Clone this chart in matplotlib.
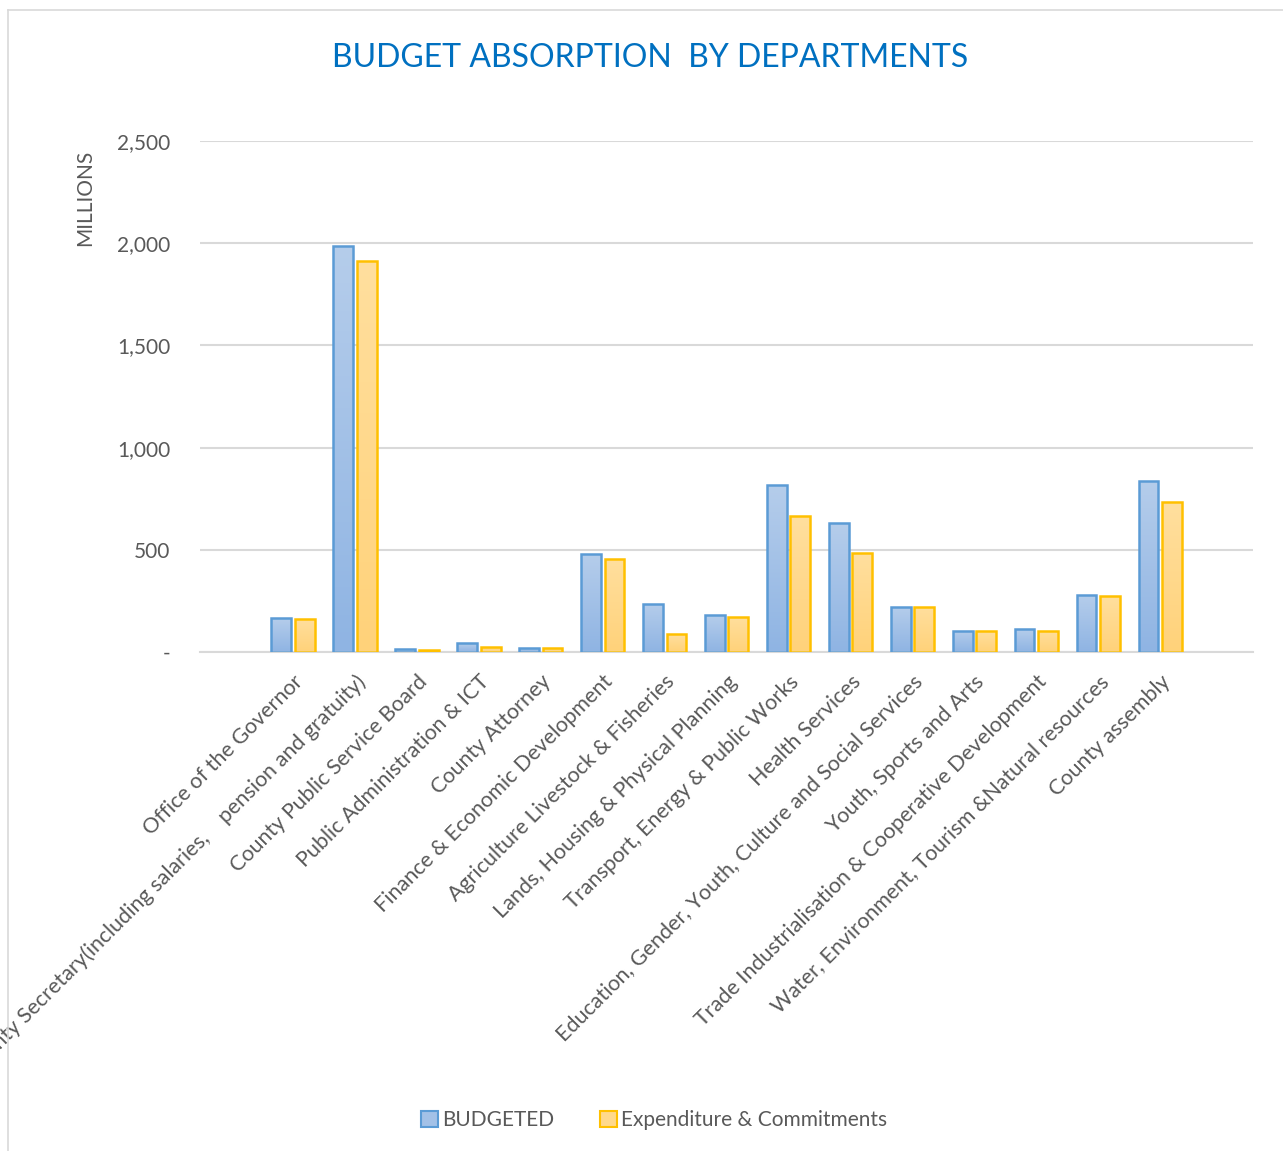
import numpy as np
import matplotlib
matplotlib.use("Agg")
import matplotlib.pyplot as plt
from matplotlib.colors import LinearSegmentedColormap
from matplotlib.ticker import FuncFormatter, FixedLocator
from matplotlib.patches import Patch
from matplotlib.lines import Line2D

plt.rcParams['font.family'] = ['Lato', 'DejaVu Sans']

# data (millions)
departments = [
    "Office of the Governor",
    "County Secretary(including salaries,    pension and gratuity)",
    "County Public Service Board",
    "Public Administration & ICT",
    "County Attorney",
    "Finance & Economic Development",
    "Agriculture Livestock & Fisheries",
    "Lands, Housing & Physical Planning",
    "Transport, Energy & Public Works",
    "Health Services",
    "Education, Gender, Youth, Culture and Social Services",
    "Youth, Sports and Arts",
    "Trade Industrialisation & Cooperative Development",
    "Water, Environment, Tourism &Natural resources",
    "County assembly",
]
budgeted = [165, 1986, 13, 44, 20, 478, 235, 181, 815, 631, 222, 104, 111, 277, 838]
expenditure = [164, 1914, 12, 25, 18, 457, 88, 173, 667, 486, 221, 102, 104, 275, 735]

grey_txt = '#595959'
grid_col = '#D9D9D9'

fig = plt.figure(figsize=(12.83, 11.51), dpi=100)
ax = fig.add_axes([0.156, 0.4335, 0.8207, 0.444])

x = np.arange(len(departments))
w = 0.32
off = 0.19

b1 = ax.bar(x - off, budgeted, w, facecolor='none', edgecolor='#5B9BD5', linewidth=1.8, zorder=3)
b2 = ax.bar(x + off, expenditure, w, facecolor='none', edgecolor='#FFC000', linewidth=1.8, zorder=3)

# gradient fills inside the bars
cm_blue = LinearSegmentedColormap.from_list('b', ['#8FB4E3', '#B5CDEB'])
cm_orng = LinearSegmentedColormap.from_list('o', ['#FFD27A', '#FFDF9E'])
grad = np.linspace(0, 1, 100).reshape(-1, 1)
for bars, cm in ((b1, cm_blue), (b2, cm_orng)):
    for p in bars:
        x0, y0 = p.get_x(), p.get_y()
        im = ax.imshow(grad, cmap=cm, origin='lower', aspect='auto', zorder=2,
                       extent=[x0, x0 + p.get_width(), y0, y0 + p.get_height()])
        im.set_clip_path(p)

ax.set_xlim(-1.5, len(departments) + 0.5)
ax.set_ylim(0, 2500)
ax.yaxis.set_major_locator(FixedLocator([0, 500, 1000, 1500, 2000, 2500]))
ax.yaxis.set_major_formatter(FuncFormatter(lambda v, p: '-' if v == 0 else f'{v:,.0f}'))
ax.grid(axis='y', color=grid_col, linewidth=1.5, zorder=0)
ax.set_axisbelow(True)
for s in ['top', 'right', 'left']:
    ax.spines[s].set_visible(False)
ax.spines['bottom'].set_color(grid_col)
ax.spines['bottom'].set_linewidth(1.5)

ax.set_xticks(x)
ax.set_xticklabels(departments, rotation=45, ha='right', va='top', rotation_mode='anchor',
                   fontsize=15.5, color=grey_txt)
ax.tick_params(axis='x', length=0, pad=14)
ax.tick_params(axis='y', length=0, pad=21.5, labelsize=15, labelcolor=grey_txt)

ax.set_ylabel('MILLIONS', fontsize=15, color=grey_txt)
ax.yaxis.set_label_coords(-0.1, 0.888)

fig.text(0.507, 0.950, 'BUDGET ABSORPTION  BY DEPARTMENTS', ha='center', va='center',
         fontsize=23, color='#0070C0')

handles = [Patch(facecolor='#A3C1E7', edgecolor='#5B9BD5', linewidth=1.5, label='BUDGETED'),
           Patch(facecolor='#FFD98C', edgecolor='#FFC000', linewidth=1.5, label='Expenditure & Commitments')]
fig.legend(handles=handles, loc='center', bbox_to_anchor=(0.51, 0.027), ncol=2, frameon=False,
           fontsize=15, labelcolor=grey_txt, handlelength=0.8, handleheight=0.8,
           handletextpad=0.2, columnspacing=2.2)

# chart border
fig.add_artist(Line2D([0.0065, 0.0065], [0.0, 0.991], transform=fig.transFigure, color='#D9D9D9', lw=1.2))
fig.add_artist(Line2D([0.0065, 1.0], [0.991, 0.991], transform=fig.transFigure, color='#D9D9D9', lw=1.2))

fig.savefig('out.png', dpi=100)
